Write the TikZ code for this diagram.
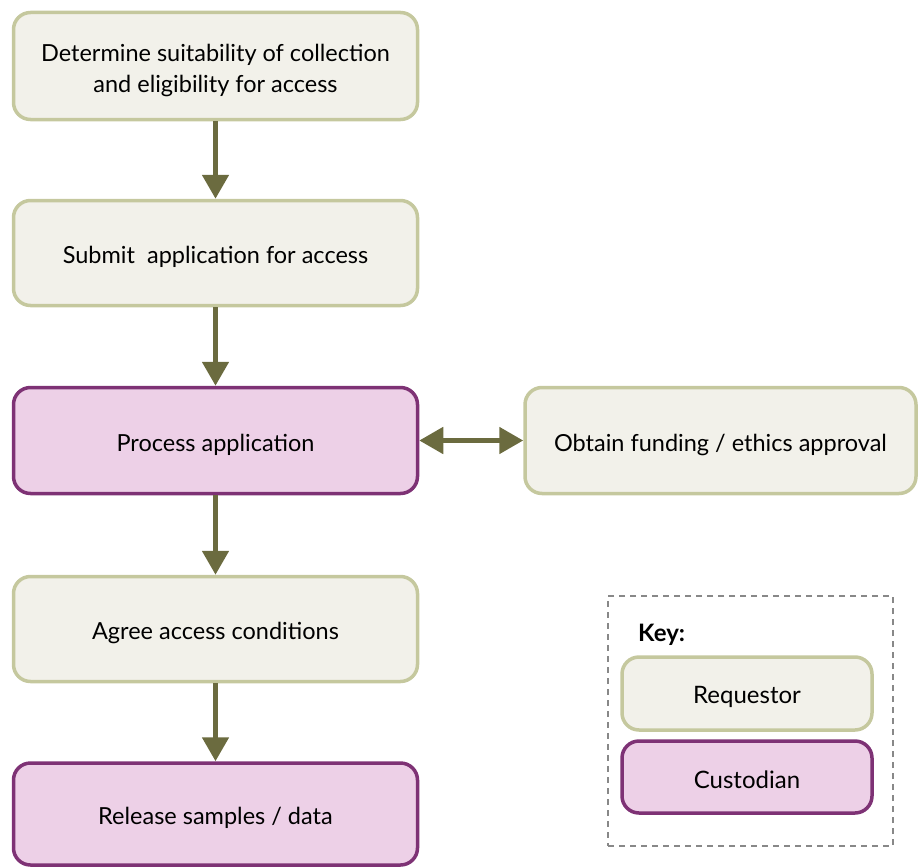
\documentclass[tikz,border=0pt]{standalone}
\usepackage{fontspec}
\setmainfont{Lato}
\usetikzlibrary{arrows.meta}
\definecolor{reqfill}{HTML}{F2F1EA}
\definecolor{reqline}{HTML}{C5C89E}
\definecolor{cusfill}{HTML}{EDD0E7}
\definecolor{cusline}{HTML}{7E3275}
\definecolor{flow}{HTML}{6B6B3F}
\definecolor{keyline}{HTML}{888888}
\tikzset{
  x=1pt, y=-1pt,
  base/.style={rounded corners=17pt, line width=3.5pt, inner sep=0pt},
  boxtext/.style={align=center, inner sep=0pt, yshift=-4pt,
    font=\fontsize{23.5}{31}\selectfont},
  keytext/.style={boxtext, yshift=1pt, font=\fontsize{24}{26}\selectfont},
  requestor/.style={base, draw=reqline, fill=reqfill},
  custodian/.style={base, draw=cusline, fill=cusfill},
  flowarrow/.style={draw=flow, line width=5pt,
    -{Triangle[length=24pt,width=26pt]}},
}
\begin{document}
\begin{tikzpicture}
\useasboundingbox (0,0) rectangle (918,867);
% main column
\node[requestor, minimum width=404pt, minimum height=107pt,
  label={[boxtext]center:{Determine suitability of collection\\and eligibility for access}}]
  (suit) at (215.5,66) {};
\node[requestor, minimum width=404pt, minimum height=105pt,
  label={[boxtext]center:{Submit~ application for access}}]
  (submit) at (215.5,253) {};
\node[custodian, minimum width=404pt, minimum height=106pt,
  label={[boxtext]center:{Process application}}]
  (process) at (215.5,440.5) {};
\node[requestor, minimum width=391pt, minimum height=106pt,
  label={[boxtext]center:{Obtain funding / ethics approval}}]
  (fund) at (720.5,440.5) {};
\node[requestor, minimum width=404pt, minimum height=105pt,
  label={[boxtext]center:{Agree access conditions}}]
  (agree) at (215.5,629) {};
\node[custodian, minimum width=404pt, minimum height=102pt,
  label={[boxtext]center:{Release samples / data}}]
  (release) at (215.5,814) {};
% connectors
\draw[flowarrow] (suit) -- (submit);
\draw[flowarrow] (submit) -- (process);
\draw[flowarrow] (process) -- (agree);
\draw[flowarrow] (agree) -- (release);
\draw[flowarrow, {Triangle[length=24pt,width=26pt]}-{Triangle[length=24pt,width=26pt]}] (process) -- (fund);
% key
\node[draw=keyline, dashed, line width=1.5pt, dash pattern=on 6pt off 5pt,
  minimum width=285pt, minimum height=250pt, inner sep=0pt] (key) at (750.5,721) {};
\node[font=\fontsize{24}{26}\bfseries\selectfont, anchor=west, inner sep=0pt] (keylabel) at (638,635) {Key:};
\node[requestor, minimum width=250pt, minimum height=73pt,
  label={[keytext]center:{Requestor}}] (kreq) at (747,693.5) {};
\node[custodian, minimum width=250pt, minimum height=72pt,
  label={[keytext]center:{Custodian}}] (kcus) at (747,777) {};
\end{tikzpicture}
\end{document}
